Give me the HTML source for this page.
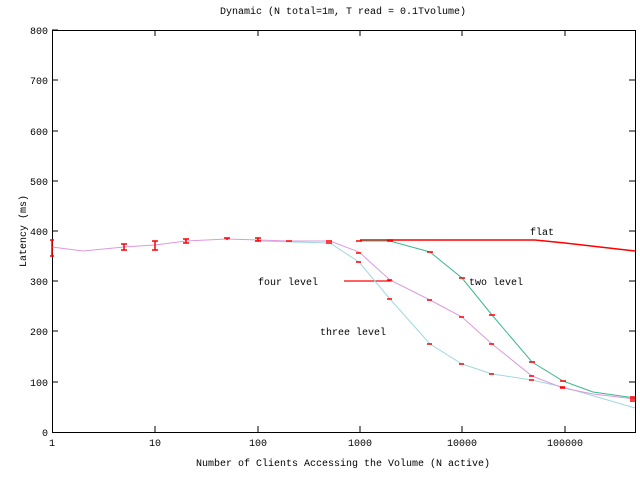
<!DOCTYPE html>
<html><head><style>body{margin:0;background:#fff}svg{display:block}text{font-family:"Liberation Mono",monospace;font-size:10px;fill:#000}</style></head><body>
<svg width="640" height="480" xmlns="http://www.w3.org/2000/svg">
<rect x="0" y="0" width="640" height="480" fill="#fff"/>
<text x="343" y="14" text-anchor="middle">Dynamic (N total=1m, T read = 0.1Tvolume)</text>
<rect x="52.5" y="30.5" width="583" height="402" fill="none" stroke="#000"/>
<g stroke="#000">
<path d="M52 382h6M52 331h6M52 281h6M52 231h6M52 181h6M52 131h6M52 80h6M52 30h6M635 382h-6M635 331h-6M635 281h-6M635 231h-6M635 181h-6M635 131h-6M635 80h-6"/>
<path d="M155 432v-6M258 432v-6M360 432v-6M462 432v-6M565 432v-6M155 30v6M258 30v6M360 30v6M462 30v6M565 30v6"/>
</g>
<g text-anchor="end">
<text x="48" y="436">0</text><text x="48" y="386">100</text><text x="48" y="335">200</text><text x="48" y="285">300</text><text x="48" y="235">400</text><text x="48" y="185">500</text><text x="48" y="135">600</text><text x="48" y="84">700</text><text x="48" y="34">800</text>
</g>
<g text-anchor="middle">
<text x="52" y="446">1</text><text x="155" y="446">10</text><text x="258" y="446">100</text><text x="360" y="446">1000</text><text x="462" y="446">10000</text><text x="565" y="446">100000</text>
<text x="343" y="466">Number of Clients Accessing the Volume (N active)</text>
</g>
<text transform="translate(26,231) rotate(-90)" text-anchor="middle">Latency (ms)</text>
<polyline fill="none" stroke="#ff0000" stroke-width="1.5" points="360,240 535,240 565,243 635,251"/>
<line x1="344" y1="281" x2="393" y2="281" stroke="#ff0000" stroke-width="1.2"/>
<polyline fill="none" stroke="#3cb88c" points="360,241 390,241 430,252 462,278 492,315 532,362 563,381 593,392 635,398"/>
<polyline fill="none" stroke="#a0d8e0" points="258,241 330,243 359,262 390,299 430,344 462,364 492,374 532,380 563,387 635,408"/>
<polyline fill="none" stroke="#dd99dd" points="52,247 83,251 124,247 155,245 186,241 227,239 258,240 289,241 330,241 359,252 390,280 430,300 462,317 492,344 532,376 563,388 593,394 635,399"/>
<g stroke="#ff0000" stroke-width="1.5">
<path d="M52 240v16M50 240h4M50 256h4M124 244v6M121 244h6M121 250h6M155 241v9M152 241h6M152 250h6M186 239v4M183 239h6M183 243h6M227 238v2M224 238h6M258 238v3M255 238h6M255 241h6"/>
<path d="M286 241h6M326 241h6M326 243h6M356 241h6M387 241h6M387 240h6M427 252h6M459 278h6M489 315h6M529 362h6M560 381h6"/>
<path d="M356 253h5M356 262h5M387 299h5M387 280h5M427 344h5M427 300h5M459 364h5M459 317h5M489 374h5M489 344h5M529 380h5M529 376h5M560 387h5M560 388h5M630 397h5M630 399h5M630 401h5"/>
</g>
<text x="530" y="235">flat</text>
<text x="469" y="285">two level</text>
<text x="258" y="285">four level</text>
<text x="320" y="335">three level</text>
</svg>
</body></html>
